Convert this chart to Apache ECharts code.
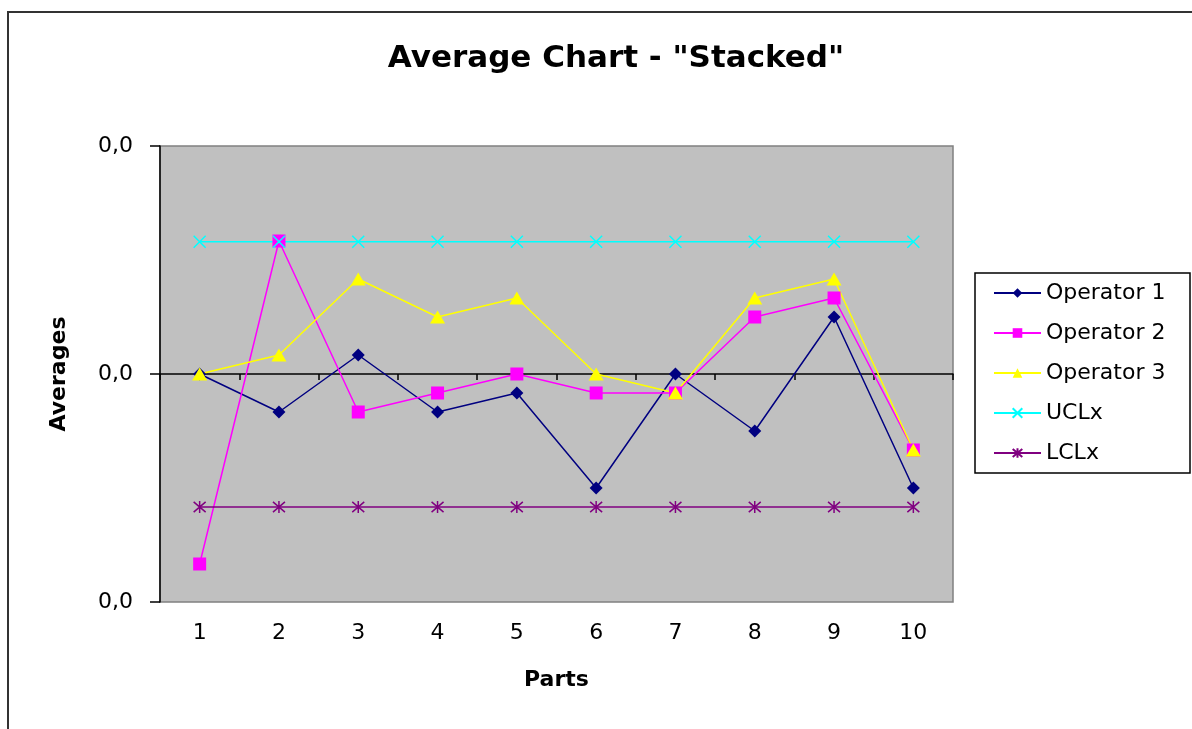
<!DOCTYPE html>
<html lang="en">
<head>
  <meta charset="UTF-8">
  <title>Average Chart</title>
  <script src="https://cdn.jsdelivr.net/npm/echarts@6/dist/echarts.min.js"></script>
  <style>
    html, body { margin:0; padding:0; background:#fff; }
    #main { width:1192px; height:729px; }
  </style>
</head>
<body>
<div id="main"></div>
<script>
  var parts = ['1','2','3','4','5','6','7','8','9','10'];
  var operator1 = [0, -0.005, 0.0025, -0.005, -0.0025, -0.015, 0, -0.0075, 0.0075, -0.015];
  var operator2 = [-0.025, 0.0175, -0.005, -0.0025, 0, -0.0025, -0.0025, 0.0075, 0.01, -0.01];
  var operator3 = [0, 0.0025, 0.0125, 0.0075, 0.01, 0, -0.0025, 0.01, 0.0125, -0.01];
  var uclx = [0.0174, 0.0174, 0.0174, 0.0174, 0.0174, 0.0174, 0.0174, 0.0174, 0.0174, 0.0174];
  var lclx = [-0.0175, -0.0175, -0.0175, -0.0175, -0.0175, -0.0175, -0.0175, -0.0175, -0.0175, -0.0175];

  var font = '"DejaVu Sans", Arial, sans-serif';
  var xMark = 'path://M0,0L12,12M12,0L0,12';
  var starMark = 'path://M0,0L12,12M12,0L0,12M6,-1L6,13';

  var chart = echarts.init(document.getElementById('main'));

  function lineSeries(name, data, color, symbol, size, hollow){
    var s = {
      name:name,
      type:'line',
      data:data,
      symbol:symbol,
      symbolSize:size,
      showAllSymbol:true,
      lineStyle:{color:color, width:1.5},
      itemStyle:{color:color}
    };
    if(hollow){ s.itemStyle = {color:'rgba(0,0,0,0)', borderColor:color, borderWidth:1.5}; }
    return s;
  }

  chart.setOption({
    backgroundColor:'#fff',
    animation:false,
    title:{
      text:'Average Chart - "Stacked"',
      left:611, top:38, textAlign:'center',
      textStyle:{fontFamily:font, fontSize:31, fontWeight:'bold', color:'#000'}
    },
    graphic:[
      {type:'rect', shape:{x:8, y:12, width:1300, height:800}, style:{fill:'none', stroke:'#333', lineWidth:2}},
      {type:'rect', shape:{x:975, y:273, width:215, height:200}, style:{fill:'#fff', stroke:'#000', lineWidth:1.5}, z:0}
    ],
    legend:{
      orient:'vertical',
      left:993, top:282, padding:0,
      itemWidth:47, itemHeight:12, itemGap:18,
      textStyle:{fontFamily:font, fontSize:22, color:'#000'},
      data:['Operator 1','Operator 2','Operator 3','UCLx','LCLx']
    },
    grid:{
      left:160, right:239, top:146, bottom:127,
      show:true, backgroundColor:'#c0c0c0', borderColor:'#808080', borderWidth:1.5
    },
    xAxis:[{
      type:'category',
      data:parts,
      position:'bottom',
      axisLine:{show:false, onZero:false},
      axisTick:{show:false},
      axisLabel:{fontFamily:font, fontSize:22, color:'#000', margin:20},
      name:'Parts', nameLocation:'middle', nameGap:67,
      nameTextStyle:{fontFamily:font, fontSize:22, fontWeight:'bold', color:'#000'}
    },{
      type:'category',
      data:parts,
      position:'bottom',
      axisLine:{show:true, onZero:true, lineStyle:{color:'#000', width:1.5}},
      axisTick:{show:true, length:6, lineStyle:{color:'#000', width:1.5}},
      axisLabel:{show:false}
    }],
    yAxis:{
      type:'value',
      min:-0.03, max:0.03, interval:0.03,
      axisLine:{show:true, lineStyle:{color:'#000', width:1.5}},
      axisTick:{show:true, length:10, lineStyle:{color:'#000', width:1.5}},
      splitLine:{show:false},
      axisLabel:{
        fontFamily:font, fontSize:22, color:'#000', margin:27,
        formatter:function(v){ return Math.abs(v).toFixed(1).replace('.', ','); }
      },
      name:'Averages', nameLocation:'middle', nameGap:90,
      nameTextStyle:{fontFamily:font, fontSize:22, fontWeight:'bold', color:'#000'}
    },
    series:[
      lineSeries('Operator 1', operator1, '#000080', 'diamond', [13, 13]),
      lineSeries('Operator 2', operator2, '#ff00ff', 'rect', 13),
      lineSeries('Operator 3', operator3, '#ffff00', 'triangle', [15, 13]),
      lineSeries('UCLx', uclx, '#00ffff', xMark, 12, true),
      lineSeries('LCLx', lclx, '#800080', starMark, 12, true)
    ]
  });
</script>
</body>
</html>
